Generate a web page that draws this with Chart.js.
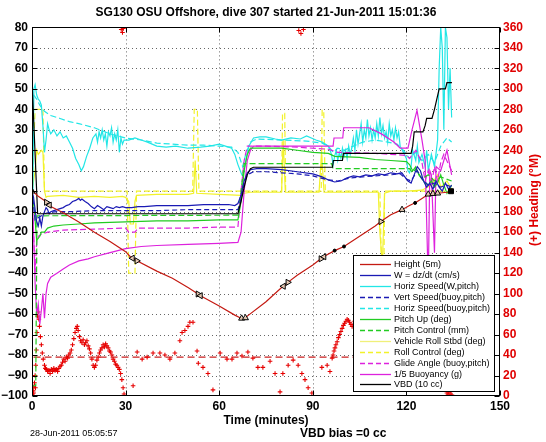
<!DOCTYPE html>
<html><head><meta charset="utf-8">
<script src="https://cdn.jsdelivr.net/npm/chart.js@4.4.0/dist/chart.umd.min.js"></script>
<style>html,body{margin:0;padding:0;background:#fff;}#wrap{position:relative;width:546px;height:442px;}</style>
</head><body><div id="wrap"><canvas id="c" width="546" height="442"></canvas></div>
<script>
// ---------------- DATA (minutes, value) ----------------
const titleText = 'SG130 OSU Offshore, dive 307 started 21-Jun-2011 15:01:36';
const xLabel = 'Time (minutes)';
const y2Label = '(+) Heading (\u00B0M)';
const footLeft = '28-Jun-2011 05:05:57';
const footRight = 'VBD bias =0 cc';
const xTicks = [0, 30, 60, 90, 120, 150];
const yTicks = [-100,-90,-80,-70,-60,-50,-40,-30,-20,-10,0,10,20,30,40,50,60,70,80];
const headTicks = [0,20,40,60,80,100,120,140,160,180,200,220,240,260,280,300,320,340,360];
const legendLabels = ['Height (5m)','W = dz/dt (cm/s)','Horiz Speed(W,pitch)','Vert Speed(buoy,pitch)','Horiz Speed(buoy,pitch)','Pitch Up (deg)','Pitch Control (mm)','Vehicle Roll Stbd (deg)','Roll Control (deg)','Glide Angle (buoy,pitch)','1/5 Buoyancy (g)','VBD (10 cc)'];

const height = [[0,0],[1,-1],[2,-2.5],[4,-4.5],[5,-6],[6,-7.5],[10,-10.5],[15,-15],[20,-20],[25,-24.5],[30,-29.5],[31.5,-32],[33,-33.5],[40,-39],[45,-42.5],[50,-47],[53,-50],[54,-51],[60,-56],[65,-60.5],[67,-62],[68,-62.5],[69,-61],[75,-54],[80,-47],[81,-46],[82,-44.5],[85,-41],[90,-36],[93,-32.5],[94,-31.5],[97,-29],[100,-27],[105,-22],[110,-17],[112,-14.5],[115,-11.5],[118.6,-9],[121,-7],[123,-5.5],[125,-3.5],[127,-1.5],[130,-1],[133,-0.5],[134.6,0]];
const heightMarks = [[0,0],[4.6,-5.4],[5.6,-6.8],[32.2,-32.7],[33.6,-34],[53.2,-50.2],[54.0,-51],[67.2,-62.1],[68.4,-61.9],[80.6,-46.4],[82.0,-44.5],[92.6,-33],[93.6,-32],[97,-29],[100,-27],[111.8,-14.8],[118.6,-9],[122.8,-5.7],[127,-1.5],[128.5,-1.2],[130,-1],[134.3,0]];
const markKind = ['t0','tr','tl','tl','tr','tr','tl','t0','t0','tl','tr','tr','tl','d','d','tr','t0','d','t0','t0','t0','s'];

const wSpeed = [[0,0],[0.5,-3],[1,-9],[1.5,-15],[2,-17],[2.5,-13],[3,-17],[3.5,-12],[4,-10],[4.5,-8],[5,-9],[5.5,-11],[6,-10],[7,-9.5],[8,-9],[9,-8.5],[10,-8],[11,-7],[12,-6.5],[13,-5],[14,-4.5],[15,-3.5],[15.5,-4.5],[16,-3.8],[17,-5],[18,-6],[19,-7.5],[20,-8.5],[21,-7],[22,-8],[23,-9],[24,-7.5],[25,-8],[26,-8.5],[27,-7.5],[28,-8],[29,-7.5],[30,-8],[32,-8],[34,-7.5],[36,-7.5],[40,-7],[45,-7],[50,-7],[55,-6.5],[60,-6.5],[63,-6.5],[65,-7],[66,-6],[67,-2],[68,5],[69,9],[70,10.5],[72,11],[75,11],[80,10.5],[85,9.5],[90,8.5],[93,7],[95,5.5],[97,4.5],[99,5],[101,6.5],[103,7.5],[105,7],[107,8],[109,7.5],[111,8.5],[113,8],[115,9],[117,8.5],[118.5,9],[119.5,7],[120.5,5],[121.5,4],[122.5,8],[123.5,12],[124.5,10],[125.5,5],[126.5,2],[127.5,4],[128.5,1],[129.5,5],[130.5,2],[131.5,0],[132.5,4],[133.5,1],[134.5,3]];
const vertSpeed = [[0,0],[1,-14],[2,-13],[3,-12],[4,-11],[5,-10.5],[8,-10],[12,-10],[20,-9.5],[30,-9.5],[40,-9.5],[50,-9],[60,-9],[66,-9],[67,-4],[68,4],[69,8],[71,9.5],[75,9.5],[80,9],[85,8.5],[90,7.5],[95,5.5],[98,5],[102,6.5],[106,7],[110,7.5],[115,8],[118,8.5],[120,6],[121.5,5],[123.5,10],[125,6],[127,3],[129,4],[131,2],[133,3],[134.5,2]];
const horizW = [[0.3,0],[0.6,50],[1,52],[1.5,47],[2,45],[2.5,44],[3,42],[3.5,32],[4,19],[4.5,25],[5,33],[5.5,30],[6,28],[7,30],[8,27],[9,29],[10,26],[11,27],[12,24],[13,21],[14,16],[15,13],[15.8,10],[16.5,12],[17.5,17],[18.5,21],[19.5,26],[20.5,28],[21,24],[21.5,29],[22,26],[22.5,30],[23,25],[23.5,28],[24,22],[24.5,29],[25,27],[25.5,31],[26,24],[26.5,28],[27,25],[27.5,30],[28,19],[28.5,26],[29,23],[29.5,25],[31,25],[33,26],[35,25],[37,24],[40,22],[43,21.5],[46,22],[50,21],[54,21.5],[57,22],[60,23],[62,22],[64,21],[65,18],[66,13],[67,9],[67.6,7],[68.5,15],[69.5,22],[71,26],[73,26.5],[75,26.5],[78,25.5],[80,25],[83,26],[86,25.5],[88,27],[91,25],[93,24],[95,22],[96,18],[96.5,13],[97,17],[97.5,20],[98,15],[98.5,19],[99,16],[99.5,21],[100,17],[100.5,20],[101,16],[101.5,22],[102,18],[102.5,21],[103,26],[103.5,20],[104,30],[104.5,23],[105,28],[105.5,33],[106,24],[106.5,30],[107,26],[107.5,35],[108,27],[108.5,31],[109,25],[109.5,30],[110,26],[110.5,33],[111,27],[111.5,36],[112,28],[112.5,32],[113,26],[113.5,29],[114,24],[114.5,33],[115,27],[115.5,30],[116,25],[116.5,31],[117,26],[117.5,29],[118,22],[119,19],[120,16],[120.5,10],[121,9],[121.5,12],[122,20],[123,15],[123.5,22],[124,14],[125,18],[126,12],[126.5,20],[127,10],[128,18],[129,12],[130,25],[130.5,60],[131,80],[131.5,70],[132,30],[132.5,80],[133,75],[133.5,40],[134,60],[134.5,36]];
const horizBuoy = [[0.5,47],[1.5,45],[2.5,42],[4,39],[6,37],[9,35.5],[12,34],[15,33],[20,31],[25,28],[30,26],[35,25],[40,23.5],[45,23],[50,22.5],[55,22.5],[60,22],[64,21.5],[66,19],[67.5,12],[68.5,18],[70,24],[72,25.5],[80,25],[88,24.5],[93,23.5],[95,22],[96.5,19],[98,21],[100,20],[103,22],[106,24],[110,25],[114,24],[117,23],[119,20],[121,16],[123,19],[125,15],[127,18],[129,14],[131,22],[133,26],[134.5,24]];
const pitchUp = [[0,0],[0.8,-10],[1.5,-24],[2.5,-22],[3,-20],[4,-20],[5,-18],[7,-17],[10,-16.5],[15,-16],[20,-15.5],[30,-15],[40,-14.5],[50,-14.5],[60,-14],[66,-14],[67,-5],[68,10],[69,18],[70,21],[80,21],[85,20],[90,19],[95,18.5],[97,17],[105,16.5],[110,15.5],[115,15],[120,14.5],[121,13],[122,10],[123,12],[124,8],[125,6],[126,4],[127,3],[128,5],[129,2],[130,4],[131,8],[132,3],[133,-1],[134.5,3]];
const pitchCtl = [[0,-95],[1.2,-95],[1.6,-12],[66,-11.7],[67,0],[68,13.5],[96,13.5],[96.5,11],[121,11],[122,9],[123,11],[125,6],[127,8],[129,5],[131,7],[134.5,5]];
const roll = [[0,0],[0.5,5],[1,10],[1.5,20],[2,18],[3,20],[3.5,19],[4,0],[4.5,-3],[5,-2.5],[10,-2],[15,-3],[20,-2.5],[25,-3],[29,-2.5],[30,-3],[31,-5],[31.5,-16],[32.5,-16],[33,-5],[33.5,-2],[40,-1.5],[50,-1.5],[51.8,-1],[52.3,15],[52.8,-1],[60,-1.5],[67,-2],[68,-1],[70,-0.5],[80,-0.5],[80.5,25],[81.2,-0.5],[92,-0.5],[92.8,19],[93.6,-0.5],[100,-0.5],[111,-0.5],[111.5,-20],[112.3,-36],[113,-1],[115,0],[120,0],[125,0.5],[128,3],[130,8],[131,2],[133,5],[134.5,1]];
const rollCtl = [[0,0],[1,40],[2,40],[3.5,40],[4,0],[30.5,0],[31,-40],[33,-40],[33.5,0],[51.5,0],[52,40],[53,40],[53.5,0],[80,0],[80.3,38],[81,38],[81.3,0],[92.7,0],[93,39.5],[93.5,39.5],[94,0],[111.5,0],[112,-37],[112.8,-37],[113,0],[134.5,0]];
const glide = [[0,0],[1,-40],[1.5,-25],[2,-22],[3,-21],[5,-20],[10,-19],[20,-18.5],[30,-18],[31,-20],[33,-20],[34,-18],[40,-18],[50,-18],[60,-17.5],[66,-17.5],[67,0],[68,15],[69,22],[75,22],[85,21.5],[95,20.5],[98,19],[110,18.5],[120,17.5],[121,16],[123,20],[125,14],[126,5],[127,10],[128,3],[129,12],[130,5],[131,14],[132,18],[134.5,10]];
const buoy = [[0,0],[0.5,-20],[1,-45],[1.5,-60],[2,-55],[2.5,-65],[3,-58],[3.5,-50],[4,-62],[4.5,-50],[5,-45],[6,-42],[8,-40],[10,-38],[12,-36],[15,-34],[18,-33],[20,-32],[25,-30],[30,-28],[35,-27],[40,-26.5],[50,-26],[60,-25.5],[66,-25],[67,-20],[68,0],[69,15],[70,20],[71,22],[80,22],[90,22],[96.5,22],[96.8,26],[99.6,26],[99.9,31],[105,31],[108,31],[112,28],[116,24],[118,21],[120.5,21],[121.8,30],[123.4,39.5],[125,25],[126,15],[127,-45],[127.5,10],[128,8],[129,-30],[129.5,12],[131,10],[132,15],[133,20],[134,12],[134.5,8]];
const vbd = [[0,54],[0.3,54],[1.8,-11],[66,-11],[67,-5],[68,2],[69,8],[70,11],[71,11.7],[96.3,11.7],[96.6,15],[99.5,15],[99.8,18.5],[121.5,18.5],[122,22],[122.5,29],[125.3,29],[126,32],[126.5,35.6],[128.2,35.6],[129,40],[130.5,50],[132.5,50],[133,53],[134.6,53]];
const heading = [[0.2,2],[0.3,0],[0.4,5],[0.5,3],[0.6,9],[0.8,13],[1.0,20],[1.1,8],[1.2,30],[1.4,45],[1.6,62],[1.8,78],[2.0,82],[2.2,75],[2.4,68],[2.7,58],[3.0,50],[3.3,42],[3.6,36],[4.0,30],[4.3,27],
[4.6,26],[5.0,24],[5.4,25],[5.8,22],[6.2,26],[6.6,24],[7.0,27],[7.4,25],[7.8,26],[8.2,24],[8.6,27],[9.0,29],[9.4,30],[9.8,33],[10.2,36],[10.6,34],[11.0,38],[11.4,37],[11.8,40],[12.2,42],[12.6,45],[13.0,50],[13.4,56],[13.8,62],[14.2,66],[14.5,68],[14.8,64],[15.2,58],[15.6,54],[16.0,52],[16.4,55],[16.8,50],[17.2,52],[17.6,54],[18.0,49],[18.4,46],[18.8,42],[19.2,36],[19.6,30],[20.0,28],[20.4,30],[20.8,35],[21.2,38],[21.6,42],[22.0,45],[22.4,47],[22.8,50],[23.2,48],[23.6,51],[24.0,49],[24.4,47],[24.8,44],[25.2,43],[25.6,40],[26.0,36],[26.4,34],[26.8,31],[27.2,30],[27.6,28],[28.0,26],[28.4,22],[28.8,16],[29.2,8],[29.5,2],
[28.6,358],[29.0,355],[29.3,359],
[32.4,10],[33.7,43],[35.3,36],[36.9,38],[38.8,42],[41.0,42],[42.6,40],[44.2,36],[45.8,42],[47.4,54],[48.1,62],[49.0,64],[50.0,68],[50.6,72],[51.6,72],[52.9,44],[53.3,32],[54.8,28],[56.4,22],[58.0,6],[60.3,42],[62.5,36],[64.1,36],[65.7,42],[67.3,39],[69.2,43],[70.8,37],[72.4,28],[74.0,28],[76.3,34],[77.9,22],[79.5,4],[80.4,22],[82.1,30],[83.7,35],[85.3,30],[86.5,22],[87.5,16],[88.5,8],[89.7,3],[92.9,28],[94.6,30],[95.5,24],
[85.5,357],[86.2,354],[87.0,358],
[96.2,37],[96.5,40],[96.8,44],[97.1,47],[97.4,50],[97.8,53],[98.2,57],[98.6,60],[99.0,63],[99.4,66],[99.8,69],[100.2,71],[100.6,73],[101.0,75],[101.4,74],[101.8,72],[102.2,70],[102.6,68],[103.0,70],[103.4,73],[103.8,75],[104.2,72],[104.8,74],[105.4,71],[106.0,76],[106.6,73],[107.2,70],[108.0,74],[108.8,72],[109.6,75],
[133.0,3],[133.3,1],[133.6,4],[134.0,2],[134.3,5],[134.6,1]];
const headingTarget = [[0.5,38],[135,38]];

// ---------------- CHART ----------------
const FONT = 'Liberation Sans, Arial, Helvetica, sans-serif';
const toXY = a => a.map(p => ({x:p[0], y:p[1]}));
const C = {red:'#c41a12', blue:'#1a1ab4', cyan:'#22e6e6', green:'#22cc22', yellow:'#f2f22a', mag:'#dd22dd', black:'#000000', head:'#e60000'};
function line(label, pts, color, dash, extra){
  return Object.assign({label, data: toXY(pts), borderColor: color, backgroundColor: color,
    borderWidth: 1.2, borderDash: dash || [], pointRadius: 0, tension: 0, fill: false, yAxisID: 'y'}, extra || {});
}
const kindStyle = k => k === 's' ? 'rect' : (k === 'd' ? 'circle' : 'triangle');
const kindRot = k => k === 'tr' ? 90 : (k === 'tl' ? -90 : 0);
const kindRad = k => k === 's' ? 3.5 : (k === 'd' ? 1.5 : 3.5);

const datasets = [
  Object.assign(line('marks', heightMarks, '#000'), {showLine:false,
    pointStyle: ctx => kindStyle(markKind[ctx.dataIndex]),
    rotation: ctx => kindRot(markKind[ctx.dataIndex]),
    pointRadius: ctx => kindRad(markKind[ctx.dataIndex]),
    pointBorderColor:'#000', pointBackgroundColor: ctx => markKind[ctx.dataIndex]==='s'||markKind[ctx.dataIndex]==='d' ? '#000' : 'rgba(235,215,190,0.85)', pointBorderWidth:1}),
  line(legendLabels[0], height, C.red),
  line(legendLabels[11], vbd, C.black),
  line(legendLabels[1], wSpeed, C.blue),
  line(legendLabels[3], vertSpeed, C.blue, [5,3]),
  line(legendLabels[5], pitchUp, C.green),
  line(legendLabels[6], pitchCtl, C.green, [6,3]),
  line(legendLabels[10], buoy, C.mag),
  line(legendLabels[9], glide, C.mag, [6,3]),
  line(legendLabels[2], horizW, C.cyan),
  line(legendLabels[4], horizBuoy, C.cyan, [6,3]),
  line(legendLabels[7], roll, C.yellow),
  line(legendLabels[8], rollCtl, C.yellow, [6,3]),
  {label:'heading', data: toXY(heading), yAxisID:'y2', showLine:false, pointStyle:'cross', pointRadius:2.3,
    borderColor:C.head, backgroundColor:C.head, pointBorderWidth:1.1},
  line('headingTarget', headingTarget, '#cc2020', [7,4], {yAxisID:'y2'})
];

const legendStyles = [
  [C.red,[]],[C.blue,[]],[C.cyan,[]],[C.blue,[5,3]],[C.cyan,[5,3]],[C.green,[]],[C.green,[5,3]],['#f0f07a',[]],[C.yellow,[5,3]],[C.mag,[5,3]],[C.mag,[]],['#000',[]]
];

const fmt = v => v < 0 ? '\u2212' + Math.abs(v) : String(v);

const decor = {
  id:'decor',
  beforeDatasetsDraw(chart){
    const {ctx, chartArea:a, scales} = chart;
    ctx.save();
    ctx.strokeStyle = 'rgba(0,0,0,0.6)'; ctx.lineWidth = 1; ctx.setLineDash([1,3]);
    xTicks.forEach(v => { if (v <= scales.x.min || v >= scales.x.max) return;
      const px = Math.round(scales.x.getPixelForValue(v)) + 0.5;
      ctx.beginPath(); ctx.moveTo(px, a.top); ctx.lineTo(px, a.bottom); ctx.stroke(); });
    yTicks.forEach(v => { if (v <= scales.y.min || v >= scales.y.max) return;
      const py = Math.round(scales.y.getPixelForValue(v)) + 0.5;
      ctx.beginPath(); ctx.moveTo(a.left, py); ctx.lineTo(a.right, py); ctx.stroke(); });
    ctx.restore();
  },
  afterDraw(chart){
    const {ctx, chartArea:a, scales} = chart;
    ctx.save();
    ctx.strokeStyle = '#000'; ctx.lineWidth = 1; ctx.setLineDash([]);
    const L = Math.round(a.left)+0.5, R = Math.round(a.right)-0.5, T = Math.round(a.top)+0.5, B = Math.round(a.bottom)-0.5;
    ctx.strokeRect(L, T, R-L, B-T);
    ctx.beginPath();
    xTicks.forEach(v => { const px = Math.round(scales.x.getPixelForValue(v)) + 0.5;
      ctx.moveTo(px, B); ctx.lineTo(px, B-5); ctx.moveTo(px, T); ctx.lineTo(px, T+5); });
    yTicks.forEach(v => { const py = Math.round(scales.y.getPixelForValue(v)) + 0.5;
      ctx.moveTo(L, py); ctx.lineTo(L+5, py); });
    headTicks.forEach(v => { const py = Math.round(scales.y2.getPixelForValue(v)) + 0.5;
      ctx.moveTo(R, py); ctx.lineTo(R-5, py); });
    ctx.stroke();
    // legend
    const lx = 353.5, ly = 255.5, lw = 141, lh = 136;
    ctx.fillStyle = '#fff'; ctx.fillRect(lx, ly, lw, lh);
    ctx.strokeStyle = '#000'; ctx.strokeRect(lx, ly, lw, lh);
    ctx.font = '9px ' + FONT; ctx.textBaseline = 'middle'; ctx.textAlign = 'left';
    legendLabels.forEach((t, i) => {
      const yy = Math.round(264 + i * 10.95) + 0.5;
      ctx.strokeStyle = legendStyles[i][0]; ctx.lineWidth = 1.3; ctx.setLineDash(legendStyles[i][1]);
      ctx.beginPath(); ctx.moveTo(360, yy); ctx.lineTo(391, yy); ctx.stroke();
      ctx.setLineDash([]); ctx.fillStyle = '#000'; ctx.fillText(t, 394, yy);
    });
    // axis titles and footer
    ctx.fillStyle = '#000'; ctx.font = 'bold 12px ' + FONT; ctx.textAlign = 'center';
    ctx.fillText(xLabel, (a.left + a.right) / 2, 421);
    ctx.textAlign = 'left'; ctx.fillText(footRight, 300, 434);
    ctx.font = '9px ' + FONT; ctx.fillText(footLeft, 30, 434);
    ctx.translate(535, 200); ctx.rotate(-Math.PI/2);
    ctx.fillStyle = '#e00000'; ctx.font = 'bold 12px ' + FONT; ctx.textAlign = 'center';
    ctx.fillText(y2Label, 0, 0);
    ctx.restore();
  }
};

const tickFont = {family: FONT, size: 12, weight: 'bold'};
new Chart(document.getElementById('c'), {
  type: 'line',
  data: {datasets},
  options: {
    responsive: false, animation: false, devicePixelRatio: 1,
    layout: {padding: 0},
    plugins: {
      legend: {display: false}, tooltip: {enabled: false},
      title: {display: true, text: titleText, fullSize: false, color: '#000',
        font: {family: FONT, size: 12, weight: 'bold'}, padding: {top: 5, bottom: 8}}
    },
    scales: {
      x: {type: 'linear', min: 0, max: 150, position: 'bottom',
        afterFit: s => { s.height = 46; },
        afterBuildTicks: s => { s.ticks = xTicks.map(v => ({value: v})); },
        grid: {display: false, drawTicks: false}, border: {display: false},
        ticks: {color: '#000', font: tickFont, padding: 3, maxRotation: 0, autoSkip: false}},
      y: {type: 'linear', min: -100, max: 80, position: 'left',
        afterFit: s => { s.width = 32; },
        afterBuildTicks: s => { s.ticks = yTicks.map(v => ({value: v})); },
        grid: {display: false, drawTicks: false}, border: {display: false},
        ticks: {color: '#000', font: tickFont, padding: 4, autoSkip: false, callback: v => fmt(v)}},
      y2: {type: 'linear', min: 0, max: 360, position: 'right',
        afterFit: s => { s.width = 46; },
        afterBuildTicks: s => { s.ticks = headTicks.map(v => ({value: v})); },
        grid: {display: false, drawTicks: false}, border: {display: false},
        ticks: {color: '#e00000', font: tickFont, padding: 3, autoSkip: false}}
    }
  },
  plugins: [decor]
});
</script></body></html>
